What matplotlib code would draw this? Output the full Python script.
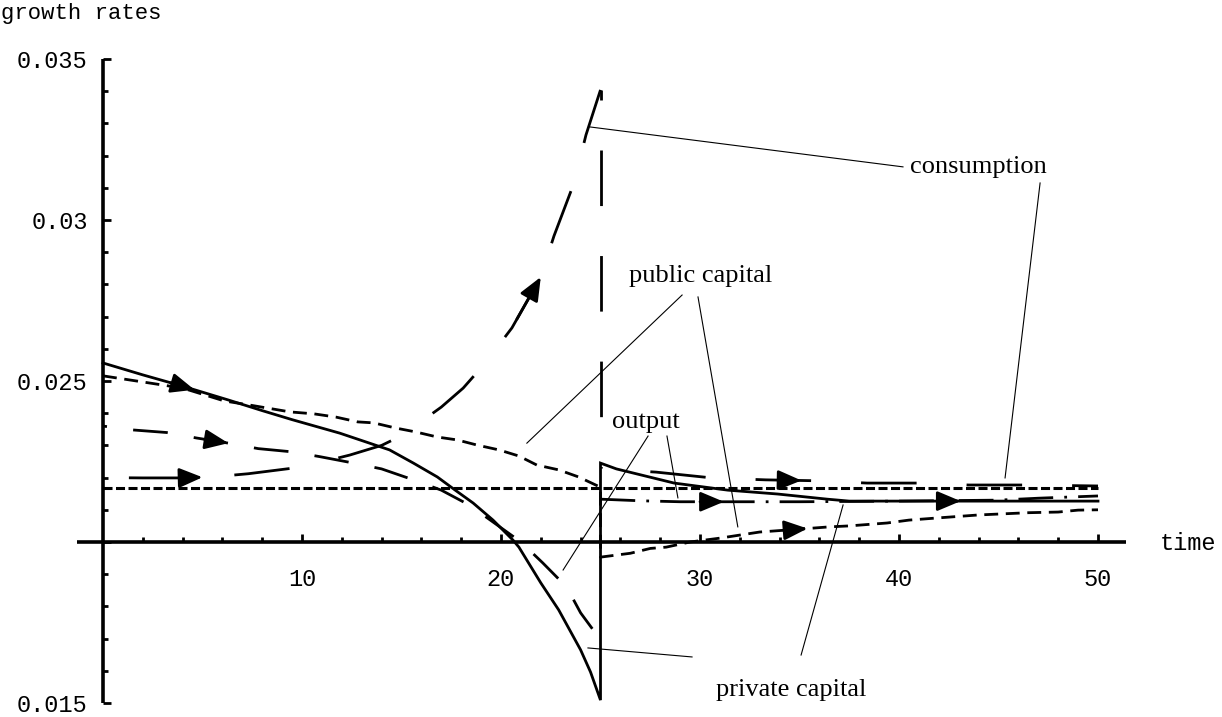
import numpy as np
import matplotlib
matplotlib.use("Agg")
import matplotlib.pyplot as plt
from matplotlib.ticker import FixedLocator, FixedFormatter

# ---------------- data ----------------
priv_left_t = [0, 2, 4, 6.3, 8, 9.5, 11.9, 13.2, 14.4, 15.6, 16.8, 17.7, 18.6,
               19.6, 20.6, 20.9, 22.0, 22.9, 24.0, 24.5, 25.0]
priv_left_v = [0.02556, 0.02519, 0.02484, 0.02441, 0.02408, 0.02380, 0.02338,
               0.02311, 0.02286, 0.02245, 0.02202, 0.02161, 0.02121, 0.02068,
               0.02006, 0.01984, 0.01873, 0.01789, 0.01665, 0.01596, 0.01509]
priv_right_t = [25, 25.8, 28.7, 31.4, 33.9, 36.4, 37.5, 43, 50]
priv_right_v = [0.02245, 0.02227, 0.02183, 0.02161, 0.02149, 0.02133, 0.02127,
                0.02127, 0.02127]

pub_left_t = [0, 2, 4, 6.1, 7.4, 9.4, 10.6, 11.7, 12.8, 13.6, 14.7, 15.7, 16.8,
              17.8, 18.8, 19.9, 20.9, 21.8, 22.9, 23.9, 25]
pub_left_v = [0.02516, 0.02497, 0.02478, 0.02438, 0.02425, 0.02404, 0.02398,
              0.02388, 0.02373, 0.02370, 0.02354, 0.02342, 0.02326, 0.02317,
              0.02301, 0.02286, 0.02267, 0.02239, 0.02224, 0.02202, 0.02170]
pub_right_t = [25, 26.5, 27.5, 28.3, 29.5, 31, 33, 35, 36.5, 37.5, 39.4, 40.5,
               42, 44, 46.5, 48, 49, 50]
pub_right_v = [0.01953, 0.01965, 0.01980, 0.01984, 0.02000, 0.02012, 0.02031,
               0.02040, 0.02047, 0.02050, 0.02059, 0.02068, 0.02075, 0.02084,
               0.02091, 0.02093, 0.02099, 0.02100]

out_left_t = [0, 1.5, 3.2, 4.7, 6.3, 7.8, 9.5, 10.9, 12.6, 14.0, 15.6, 17.0,
              18.4, 19.6, 21.0, 22.1, 23.3, 24.0, 25.0]
out_left_v = [0.02360, 0.02348, 0.02340, 0.02323, 0.02307, 0.02290, 0.02280,
              0.02265, 0.02245, 0.02227, 0.02193, 0.02161, 0.02115, 0.02062,
              0.02000, 0.01935, 0.01860, 0.01780, 0.01696]
out_right_t = [25, 27, 29, 31, 35, 40, 45, 47, 50]
out_right_v = [0.02133, 0.02128, 0.02125, 0.02125, 0.02125, 0.02127, 0.02130,
               0.02136, 0.02143]

cons_left_t = [0, 2, 4, 5.5, 7.3, 10.0, 12.4, 14.0, 15.0, 17.0, 18.1, 18.9,
               19.7, 20.55, 22.0, 22.66, 23.67, 24.27, 25.0]
cons_left_v = [0.02200, 0.02199, 0.02199, 0.02202, 0.02212, 0.02233, 0.02270,
               0.02300, 0.02330, 0.02419, 0.02478, 0.02534, 0.02596, 0.02665,
               0.02823, 0.02950, 0.03115, 0.03264, 0.03404]
cons_right_t = [25, 26, 27.8, 30.6, 33.3, 36, 38.4, 41.2, 43.5, 46.4, 50]
cons_right_v = [0.02230, 0.02224, 0.02217, 0.02199, 0.02193, 0.02190, 0.02183,
                0.02183, 0.02177, 0.02177, 0.02174]

ss_t = [0, 50]
ss_v = [0.02167, 0.02167]

# arrow positions (time values) on each branch
arrows = {
    "priv_left": [4.6], "priv_right": [43.1],
    "cons_left": [5.0, 22.0], "cons_right": [35.1],
    "out_left": [6.3], "out_right": [31.2],
    "pub_right": [35.4],
}

x_major = [10, 20, 30, 40, 50]
x_minor = [t for t in range(2, 51, 2) if t % 10]
y_major = [0.015, 0.02, 0.025, 0.03, 0.035]
y_major_labels = ["0.015", "", "0.025", "0.03", "0.035"]
y_minor = [round(0.015 + 0.001 * i, 3) for i in range(21) if i % 5]

# ---------------- figure ----------------
plt.rcParams["lines.scale_dashes"] = False
W, H, DPI = 1222, 717, 100
fig = plt.figure(figsize=(W / DPI, H / DPI), dpi=DPI, facecolor="white")
ax = fig.add_axes([0, 0, 1, 1])
X0_PX, XS = 103, 19.9
Y0_PX, YS = 542, 32200
ax.set_xlim(-X0_PX / XS, (W - X0_PX) / XS)
ax.set_ylim(0.02 - (H - Y0_PX) / YS, 0.02 + Y0_PX / YS)
ax.patch.set_visible(False)

for s in ("top", "right"):
    ax.spines[s].set_visible(False)
ax.spines["left"].set_position(("data", 0))
ax.spines["bottom"].set_position(("data", 0.02))
ax.spines["left"].set_bounds(0.015, 0.035)
ax.spines["bottom"].set_bounds(-1.3, 51.4)
for s in ("left", "bottom"):
    ax.spines[s].set_linewidth(2.6)
    ax.spines[s].set_capstyle("butt")

ax.xaxis.set_major_locator(FixedLocator(x_major))
ax.xaxis.set_minor_locator(FixedLocator(x_minor))
ax.yaxis.set_major_locator(FixedLocator(y_major))
ax.yaxis.set_major_formatter(FixedFormatter(y_major_labels))
ax.yaxis.set_minor_locator(FixedLocator(y_minor))
ax.tick_params(axis="both", which="major", direction="in", length=5.5, width=2)
ax.tick_params(axis="both", which="minor", direction="in", length=3.6, width=2)
ax.tick_params(axis="x", which="major", pad=19)
ax.tick_params(axis="y", which="major", pad=11)
for lab in ax.get_xticklabels() + ax.get_yticklabels():
    lab.set_fontfamily("Liberation Mono")
    lab.set_fontsize(17)


def path_len_pt(ts, vs):
    """Length of a data path in points (display pixels -> points)."""
    p = ax.transData.transform(np.column_stack([ts, vs]))
    return float(np.sum(np.hypot(*np.diff(p, axis=0).T))) * 72.0 / DPI


LW = 2.0
K = "black"
PX = 72.0 / DPI  # one pixel in points

# steady-state reference line
ax.plot(ss_t, ss_v, color=K, lw=2.2, dashes=(6.5, 2.5), zorder=3)
# private capital (solid) with jump
ax.plot(priv_left_t + priv_right_t, priv_left_v + priv_right_v, color=K, lw=LW,
        solid_joinstyle="miter", zorder=4)
# public capital (short dashes)
ax.plot(pub_left_t + pub_right_t, pub_left_v + pub_right_v, color=K, lw=LW,
        dashes=(10, 5.5), zorder=4)
# output (medium dashes)
OD, OG = 25, 19
ax.plot(out_left_t, out_left_v, color=K, lw=LW,
        linestyle=(OD - 4 * PX, (OD, OG)), zorder=4)
ax.plot(out_right_t, out_right_v, color=K, lw=LW,
        linestyle=(0, (25, 8, 2, 8)), zorder=4)
# consumption (long dashes): left branch ends on a dash at its peak
CD, CG = 40, 36
Lc = path_len_pt(cons_left_t, cons_left_v)
off_left = (CD - Lc) % (CD + CG)
ax.plot(cons_left_t, cons_left_v, color=K, lw=LW,
        linestyle=(off_left, (CD, CG)), zorder=4)
# vertical jump of consumption at t = 25
ax.plot([cons_left_t[-1], cons_right_t[0]], [cons_left_v[-1], cons_right_v[0]],
        color=K, lw=LW, linestyle=(CD - 10 * PX, (CD, CG)), zorder=4)
ax.plot(cons_right_t, cons_right_v, color=K, lw=LW,
        linestyle=(CD, (CD, CG)), zorder=4)

branches = {
    "priv_left": (priv_left_t, priv_left_v), "priv_right": (priv_right_t, priv_right_v),
    "cons_left": (cons_left_t, cons_left_v), "cons_right": (cons_right_t, cons_right_v),
    "out_left": (out_left_t, out_left_v), "out_right": (out_right_t, out_right_v),
    "pub_right": (pub_right_t, pub_right_v),
}
for key, ts in arrows.items():
    bt, bv = branches[key]
    for t in ts:
        t0 = t - 1.2
        ax.annotate("", xy=(t, np.interp(t, bt, bv)), xytext=(t0, np.interp(t0, bt, bv)),
                    arrowprops=dict(arrowstyle="-|>,head_length=0.95,head_width=0.4",
                                    mutation_scale=15, color=K, lw=LW,
                                    shrinkA=0, shrinkB=0), zorder=5)

# labels with pointer lines
lab_font = dict(family="Liberation Serif", size=19)
pointers = [
    ((24.47, 0.03289), (40.2, 0.03165)),
    ((47.09, 0.03115), (45.33, 0.02199)),
    ((29.1, 0.02767), (21.3, 0.02307)),
    ((29.9, 0.02761), (31.9, 0.02047)),
    ((27.39, 0.02329), (23.12, 0.01913)),
    ((28.34, 0.02329), (28.89, 0.02137)),
    ((29.6, 0.01643), (24.37, 0.01671)),
    ((35.08, 0.01649), (37.19, 0.02115)),
]
for (a, b) in pointers:
    ax.plot([a[0], b[0]], [a[1], b[1]], color=K, lw=0.8, zorder=3)


def px(x, y):
    return ((x - X0_PX) / XS, 0.02 + (Y0_PX - y) / YS)


ax.text(*px(978, 167), "consumption", ha="center", va="center", **lab_font)
ax.text(*px(701, 276), "public capital", ha="center", va="center", **lab_font)
ax.text(*px(646, 422), "output", ha="center", va="center", **lab_font)
ax.text(*px(791, 690), "private capital", ha="center", va="center", **lab_font)

fig.text(1 / W, 1 - 14 / H, "growth rates", ha="left", va="center",
         family="Liberation Mono", size=16)
fig.text(1160 / W, 1 - 543 / H, "time", ha="left", va="center",
         family="Liberation Mono", size=17)

fig.savefig("out.png", dpi=DPI, facecolor="white")
